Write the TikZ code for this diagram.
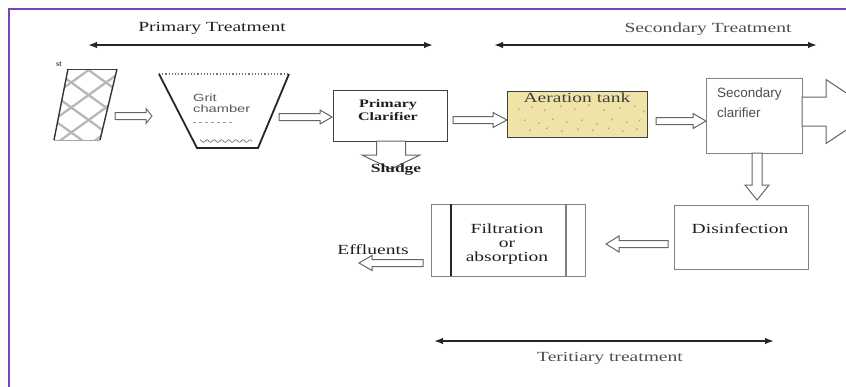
\documentclass[tikz,border=0pt]{standalone}
\usepackage{fontspec}
\setmainfont{Liberation Serif}
\newfontfamily\sansf{Liberation Sans}
\usetikzlibrary{calc,arrows.meta}
\definecolor{framec}{HTML}{7E42B8}
\definecolor{tankc}{HTML}{EFE3A8}
\definecolor{speckc}{HTML}{A89A60}
\newcommand\sx[1]{\scalebox{1.4}[1]{#1}}
% horizontal block arrow: #1 start, #2 end, #3 shaft half width, #4 head half width, #5 head length
\newcommand\harrow[5]{\draw[blk] let \p1=(#1),\p2=(#2),\n1={ifthenelse(\x2>\x1,1,-1)} in
  (\x1,{\y1+#3}) -- ({\x2-(\n1)*#5},{\y1+#3}) -- ({\x2-(\n1)*#5},{\y1+#4}) -- (\x2,\y1)
  -- ({\x2-(\n1)*#5},{\y1-#4}) -- ({\x2-(\n1)*#5},{\y1-#3}) -- (\x1,{\y1-#3}) -- cycle;}
% vertical block arrow
\newcommand\varrow[5]{\draw[blk] let \p1=(#1),\p2=(#2),\n1={ifthenelse(\y2>\y1,1,-1)} in
  ({\x1+#3},\y1) -- ({\x1+#3},{\y2-(\n1)*#5}) -- ({\x1+#4},{\y2-(\n1)*#5}) -- (\x1,\y2)
  -- ({\x1-#4},{\y2-(\n1)*#5}) -- ({\x1-#3},{\y2-(\n1)*#5}) -- ({\x1-#3},\y1) -- cycle;}
\begin{document}
\begin{tikzpicture}[x=1bp,y=-1bp,
  lbl/.style={inner sep=0pt, text=black!88, font=\fontsize{14}{14}\selectfont},
  span/.style={draw=black!85, line width=1.6bp, {Latex[length=9bp,width=6.5bp]}-{Latex[length=9bp,width=6.5bp]}},
  blk/.style={draw=black!60, fill=white, line width=1bp},
  boxa/.style={draw=black!75, line width=1.2bp, inner sep=0pt, anchor=north west},
  boxb/.style={draw=black!50, line width=1.2bp, inner sep=0pt, anchor=north west},
  hatch/.style={draw=black!28, line width=2.3bp},
  speck/.style={draw=speckc, line width=0.7bp}]
\useasboundingbox (0,0) rectangle (846,386);
\begin{scope}
\clip (0,0) rectangle (846,386);
% frame
\draw[framec, line width=2.4bp] (9,390) -- (9,9) -- (850,9);

% span arrows and headings
\node[lbl] (ptxt) at (212,28) {\sx{Primary Treatment}};
\coordinate (pL) at (88,45); \coordinate (pR) at (433,45);
\draw[span] (pL) -- (pR);
\node[lbl, text=black!70] (stxt) at (708,29) {\sx{Secondary Treatment}};
\coordinate (sL) at (494,45); \coordinate (sR) at (817,45);
\draw[span] (sL) -- (sR);

% screen
\coordinate (s1) at (68,69); \coordinate (s2) at (117,69);
\coordinate (s3) at (100,140); \coordinate (s4) at (54,140);
\begin{scope}
\clip (s1) -- (s2) -- (s3) -- (s4) -- cycle;
\foreach \i in {-4,...,4} {
  \draw[hatch] (40,{60+\i*25}) -- (140,{60+\i*25+72});
  \draw[hatch] (40,{130+\i*25}) -- (140,{130+\i*25-72});
}
\end{scope}
\draw[black!75, line width=1bp] (s1) -- (s2);
\draw[black!80, line width=1.4bp] (s2) -- (s3);
\draw[black!80, line width=1.4bp] (s4) -- (s1);
\draw[black!35, line width=1bp] (s3) -- (s4);
\node[inner sep=0pt, font=\bfseries\fontsize{8}{8}\selectfont, text=black!70] (sttxt) at (59,64) {st};
\coordinate (screen) at (85,105);

% grit chamber
\coordinate (g1) at (159,74); \coordinate (g2) at (289,74);
\coordinate (g3) at (258,148); \coordinate (g4) at (197,148);
\draw[black!55, line width=1.2bp, dotted] (g1) -- (g2);
\draw[black!85, line width=1.8bp] (g1) -- (g4) -- (g3) -- (g2);
\node[inner sep=0pt, anchor=west, align=left, text=black!65, font=\sansf\fontsize{10.5}{11}\selectfont] (grit) at (193,103) {\sx{Grit}\\\sx{chamber}};
\draw[black!40, line width=0.8bp, dashed] (193,122) -- (233,122);
\draw[black!55, line width=0.7bp] plot[domain=200:252, samples=45] (\x, {141+1.3*sin(\x*50)});

% screen -> grit
\coordinate (a1s) at (115,116); \coordinate (a1e) at (152,116);
\harrow{a1s}{a1e}{3.5bp}{7.5bp}{6bp}

% primary clarifier
\node[boxa, minimum width=114bp, minimum height=51bp] (pc) at (333,90) {};
\node[lbl, font=\bfseries\fontsize{11.5}{13}\selectfont, align=center] (pctxt) at (388,110) {\sx{Primary}\\\sx{Clarifier}};
\coordinate (a2s) at (279,117); \coordinate (a2e) at (332,117);
\harrow{a2s}{a2e}{3.5bp}{7bp}{12bp}

% sludge
\coordinate (a3s) at (391,141); \coordinate (a3e) at (391,169);
\varrow{a3s}{a3e}{14.5bp}{29bp}{14bp}
\node[lbl, font=\bfseries\fontsize{12.5}{13}\selectfont] (sludge) at (396,170) {\sx{Sludge}};

% aeration tank
\coordinate (a4s) at (453,120); \coordinate (a4e) at (507,120);
\harrow{a4s}{a4e}{3.5bp}{7.5bp}{14bp}
\node[boxa, fill=tankc, minimum width=140bp, minimum height=46bp] (aer) at (507,91) {};
\foreach \x/\y in {518/110,531/108,544/111,560/107,574/110,588/106,603/111,619/109,634/107,643/112,
                   524/121,538/124,552/120,566/123,581/121,596/125,611/120,626/123,639/121,
                   529/131,546/129,561/132,577/130,592/131,608/129,622/132,636/130}
  \draw[speck] (\x,\y) -- ++(1.6,-1.4);
\node[lbl, text=black!75] (aertxt) at (577,98) {\sx{Aeration tank}};

% secondary clarifier
\coordinate (a5s) at (656,121); \coordinate (a5e) at (706,121);
\harrow{a5s}{a5e}{3.5bp}{7.5bp}{13bp}
\node[boxb, minimum width=96bp, minimum height=75bp] (sc) at (706,78) {};
\node[inner sep=0pt, anchor=west, align=left, text=black!70, font=\sansf\fontsize{13.5}{20}\selectfont] (sctxt) at (717,103) {Secondary\\clarifier};
\coordinate (a6s) at (802,111.5); \coordinate (a6e) at (874,111.5);
\harrow{a6s}{a6e}{14.5bp}{32bp}{48bp}

% disinfection
\coordinate (a7s) at (757,153); \coordinate (a7e) at (757,200);
\varrow{a7s}{a7e}{5bp}{12bp}{15bp}
\node[boxb, minimum width=134bp, minimum height=64bp] (dis) at (674,205) {};
\node[lbl] (distxt) at (740,229) {\sx{Disinfection}};

% filtration
\coordinate (a8s) at (668,244); \coordinate (a8e) at (606,244);
\harrow{a8s}{a8e}{3.5bp}{8bp}{13bp}
\node[boxb, minimum width=154bp, minimum height=72bp] (filt) at (431,204) {};
\draw[black!85, line width=1.8bp] (451,204) -- (451,276);
\draw[black!50, line width=1.2bp] (566,204) -- (566,276);
\node[lbl, align=center] (filttxt) at (507,244) {\sx{Filtration}\\\sx{or}\\\sx{absorption}};

% effluents
\coordinate (a9s) at (423,263); \coordinate (a9e) at (359,263);
\harrow{a9s}{a9e}{3.5bp}{7.5bp}{13bp}
\node[lbl] (efftxt) at (373,250) {\sx{Effluents}};

% tertiary
\coordinate (tL) at (434,341); \coordinate (tR) at (774,341);
\draw[span] (tL) -- (tR);
\node[lbl, text=black!70] (ttxt) at (610,358) {\sx{Teritiary treatment}};
\end{scope}
\end{tikzpicture}
\end{document}
